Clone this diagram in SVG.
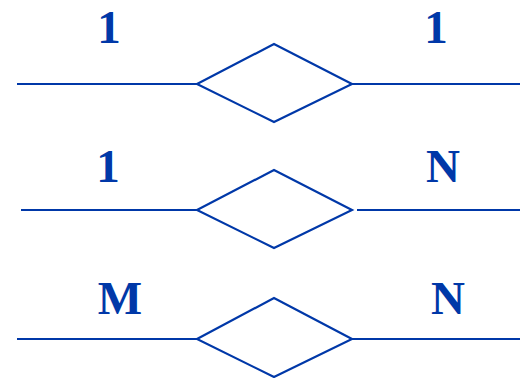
<svg xmlns="http://www.w3.org/2000/svg" width="520" height="378" viewBox="0 0 520 378">
<style>
.l{stroke:#0038A8;stroke-width:2.2;fill:none}
.d{stroke:#0038A8;stroke-width:2.2;fill:#fff}
.t{font-family:"Liberation Serif","Times New Roman",serif;font-weight:bold;font-size:47px;fill:#0038A8;text-anchor:middle}
</style>
<rect width="520" height="378" fill="#fff"/>
<g id="connectors">
<line class="l" x1="17" y1="84" x2="197" y2="84"/>
<line class="l" x1="352" y1="84" x2="520" y2="84"/>
<line class="l" x1="21" y1="210" x2="197" y2="210"/>
<line class="l" x1="357" y1="210" x2="520" y2="210"/>
<line class="l" x1="17" y1="339" x2="197" y2="339"/>
<line class="l" x1="352" y1="339" x2="520" y2="339"/>
</g>
<g id="rel1"><polygon class="d" points="197,84 274,44 352,84 274,122"/></g>
<g id="rel2"><polygon class="d" points="197,210 274,170 352,210 274,248"/></g>
<g id="rel3"><polygon class="d" points="197,339 274,298 352,339 274,377"/></g>
<g id="labels">
<text class="t" x="109" y="43">1</text>
<text class="t" x="436" y="43">1</text>
<text class="t" x="108" y="182">1</text>
<text class="t" x="443" y="182">N</text>
<text class="t" x="120" y="314">M</text>
<text class="t" x="448" y="314">N</text>
</g>
</svg>
